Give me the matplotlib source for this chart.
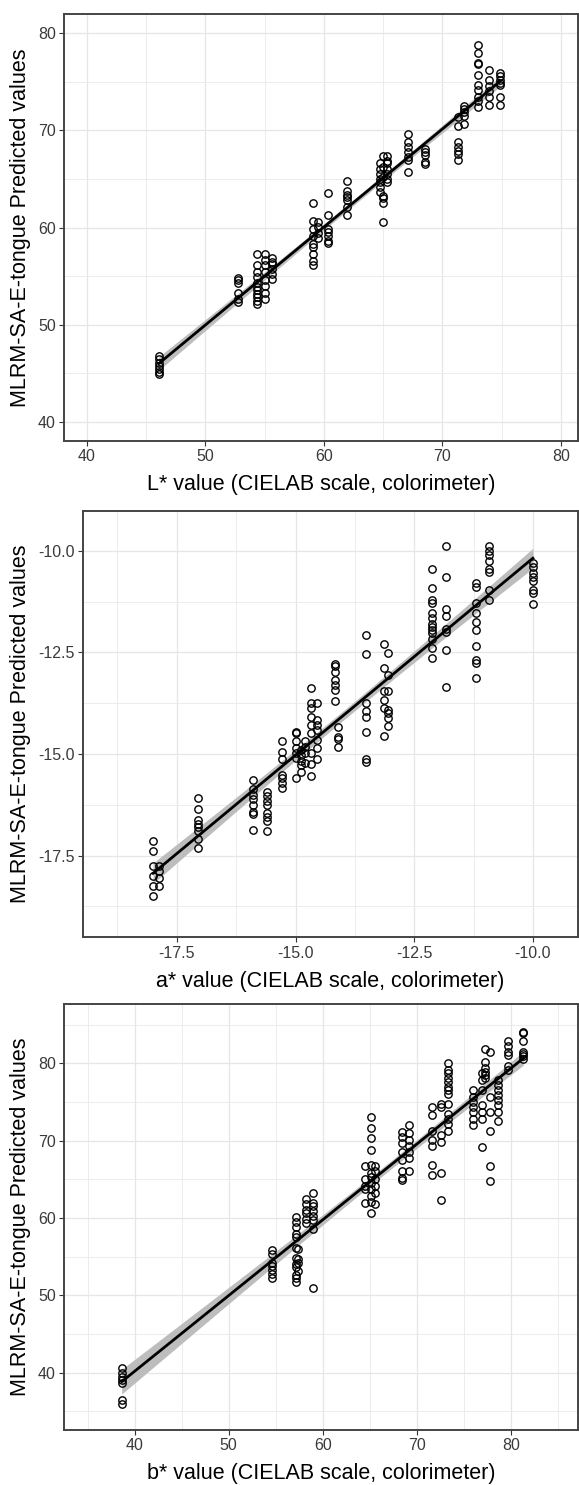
import numpy as np
import matplotlib
matplotlib.use("Agg")
import matplotlib.pyplot as plt
from matplotlib.ticker import MultipleLocator

plt.rcParams['font.family'] = ['Liberation Sans', 'DejaVu Sans']
plt.rcParams['axes.unicode_minus'] = False

# L* panel: colorimeter value per group and the predicted values of that group
L_ref = [46.05, 52.75, 54.35, 55.05, 55.6, 59.1, 59.5, 60.35, 61.95,
         64.7, 65.0, 65.35, 67.1, 68.55, 71.35, 71.8, 73.0, 73.95, 74.85]
L_pred = [
    [46.8, 46.5, 46.0, 45.7, 45.4, 45.1, 44.9],
    [54.8, 54.6, 54.3, 53.3, 52.6, 52.3],
    [57.25, 56.1, 55.4, 54.9, 54.3, 53.9, 53.6, 53.2, 52.8, 52.4, 52.1],
    [57.25, 56.7, 56.1, 55.4, 54.6, 54.0, 53.3, 52.6],
    [56.9, 56.5, 56.2, 55.7, 55.2, 54.7],
    [62.5, 60.7, 59.8, 59.1, 58.3, 58.0, 57.3, 56.6, 56.1],
    [60.6, 60.1, 59.4, 58.9],
    [63.55, 61.3, 59.8, 59.5, 59.1, 58.6, 58.4],
    [64.8, 63.8, 63.4, 63.1, 62.8, 62.1, 61.3],
    [66.7, 66.0, 65.5, 65.0, 64.7, 64.2, 63.7],
    [67.4, 66.2, 65.2, 63.3, 63.0, 62.5, 60.6],
    [67.4, 66.9, 66.6, 66.0, 65.5, 65.0, 64.7],
    [69.65, 68.8, 68.3, 67.8, 67.3, 67.0, 65.7],
    [68.1, 67.8, 67.5, 66.8, 66.5],
    [71.4, 70.5, 68.8, 68.3, 67.9, 67.6, 67.0],
    [72.55, 72.2, 71.9, 71.5, 70.7],
    [78.8, 78.0, 77.0, 76.8, 75.7, 74.7, 74.2, 73.5, 73.0, 72.4],
    [76.2, 75.2, 74.6, 74.1, 73.5, 72.6],
    [75.9, 75.6, 75.2, 74.9, 74.7, 73.4, 72.6],
]

# a* panel
a_ref = [-18.0, -17.88, -17.06, -15.9, -15.61, -15.29, -15.0, -14.89, -14.81,
         -14.67, -14.55, -14.17, -14.11, -13.51, -13.14, -13.05, -12.13,
         -11.84, -11.2, -10.93, -10.0]
a_pred = [
    [-17.14, -17.38, -17.75, -18.0, -18.25, -18.49],
    [-17.75, -17.88, -18.04, -18.25],
    [-16.09, -16.34, -16.62, -16.71, -16.79, -16.89, -17.08, -17.31],
    [-15.64, -15.87, -16.01, -16.11, -16.25, -16.42, -16.47, -16.87],
    [-15.93, -16.03, -16.15, -16.25, -16.44, -16.54, -16.65, -16.89],
    [-14.69, -14.94, -15.13, -15.51, -15.60, -15.70, -15.84],
    [-14.45, -14.49, -14.67, -14.86, -14.98, -15.10, -15.58],
    [-14.90, -15.02, -15.16, -15.27, -15.43],
    [-14.67, -14.82, -14.98, -15.22],
    [-13.38, -13.75, -13.87, -14.08, -14.28, -14.49, -14.98, -15.24, -15.54],
    [-13.75, -14.15, -14.28, -14.41, -14.65, -14.86, -15.13],
    [-12.78, -12.84, -12.99, -13.17, -13.30, -13.42, -13.69],
    [-14.34, -14.57, -14.63, -14.82],
    [-12.06, -12.54, -13.75, -13.95, -14.08, -14.46, -15.13, -15.19],
    [-12.28, -12.88, -13.46, -13.67, -13.87, -14.56],
    [-12.51, -13.05, -13.46, -13.91, -14.0, -14.12, -14.31],
    [-10.45, -10.92, -11.21, -11.28, -11.54, -11.66, -11.79, -11.87, -11.95,
     -12.03, -12.16, -12.39, -12.63],
    [-9.88, -10.65, -11.42, -11.59, -11.91, -11.99, -12.44, -13.34],
    [-10.80, -10.88, -11.29, -11.54, -11.74, -11.95, -12.35, -12.69, -12.76, -13.12],
    [-9.89, -10.0, -10.1, -10.25, -10.45, -10.51, -10.97, -11.21],
    [-10.30, -10.39, -10.54, -10.64, -10.75, -10.95, -11.04, -11.30],
]

# b* panel
b_ref = [38.63, 54.6, 57.17, 57.35, 58.24, 59.0, 64.5, 65.1, 65.5, 68.4, 69.1,
         71.56, 72.6, 73.3, 75.9, 76.86, 77.25, 77.8, 78.6, 79.7, 81.3]
b_pred = [
    [40.57, 40.0, 39.5, 39.07, 38.64, 36.49, 35.98],
    [55.86, 55.4, 54.2, 53.8, 53.3, 52.8, 52.3],
    [60.1, 59.5, 58.9, 58.0, 57.5, 56.1, 54.8, 54.1, 53.7, 52.7, 52.2, 51.7],
    [56.0, 54.7, 54.2, 53.1],
    [62.5, 61.8, 61.1, 60.6, 59.9, 59.4],
    [63.3, 62.0, 61.6, 60.9, 60.3, 59.7, 58.6, 50.9],
    [66.7, 65.0, 64.1, 63.7, 62.0],
    [73.0, 71.6, 70.4, 68.8, 66.8, 65.8, 65.3, 64.5, 63.7, 62.9, 62.1, 60.6],
    [66.7, 66.1, 65.0, 64.1, 63.3, 61.8],
    [71.1, 70.5, 69.7, 68.6, 67.5, 66.1, 65.2, 64.9],
    [72.0, 71.0, 70.1, 69.3, 68.6, 67.8, 66.1],
    [74.4, 73.3, 71.2, 70.1, 69.3, 66.8, 65.6],
    [74.8, 74.4, 70.7, 69.8, 65.8, 62.3],
    [80.0, 79.2, 78.7, 78.1, 77.6, 77.0, 76.5, 76.1, 74.8, 73.4, 72.8, 72.2, 71.3],
    [76.5, 75.6, 75.0, 74.4, 73.7, 72.8, 72.0],
    [78.7, 77.8, 76.5, 74.6, 73.7, 72.8, 69.2],
    [81.8, 80.2, 79.4, 78.9, 78.5, 78.1],
    [81.5, 75.6, 73.7, 71.2, 66.7, 64.8],
    [77.8, 77.2, 76.5, 75.9, 75.2, 74.6, 73.7, 72.6],
    [82.9, 82.2, 81.5, 81.1, 79.6, 79.2],
    [84.1, 83.9, 82.9, 81.5, 81.2, 80.9, 80.5],
]

W, H = 579, 1485
fig = plt.figure(figsize=(W / 100, H / 100), dpi=100)


def flatten(ref, pred):
    xs, ys = [], []
    for xv, group in zip(ref, pred):
        xs += [xv] * len(group)
        ys += group
    return np.array(xs), np.array(ys)


def panel(box, ref, pred, lims, major, minor, fmt, xlabel):
    left, top, right, bottom = box
    ax = fig.add_axes([left / W, 1 - bottom / H, (right - left) / W, (bottom - top) / H])
    x, y = flatten(ref, pred)

    # droite de régression + intervalle de confiance 95 %
    slope, icpt = np.polyfit(x, y, 1)
    xs = np.linspace(x.min(), x.max(), 100)
    fit = icpt + slope * xs
    resid = y - (icpt + slope * x)
    s = np.sqrt(np.sum(resid ** 2) / (len(x) - 2))
    se = s * np.sqrt(1 / len(x) + (xs - x.mean()) ** 2 / np.sum((x - x.mean()) ** 2))
    ax.fill_between(xs, fit - 1.97 * se, fit + 1.97 * se, color='#bdbdbd', lw=0, zorder=2)

    ax.plot(x, y, 'o', mfc='none', mec='black', ms=5.3, mew=1.0, zorder=3)
    ax.plot(xs, fit, color='black', lw=2.0, zorder=4)

    ax.set_xlim(lims[0])
    ax.set_ylim(lims[1])
    for axis in (ax.xaxis, ax.yaxis):
        axis.set_major_locator(MultipleLocator(major))
        axis.set_minor_locator(MultipleLocator(minor))
        axis.set_major_formatter(fmt)
    ax.grid(True, which='major', color='#e6e6e6', lw=0.9, zorder=0)
    ax.grid(True, which='minor', color='#ececec', lw=0.7, zorder=0)
    ax.set_axisbelow(True)
    ax.tick_params(which='minor', length=0)
    ax.tick_params(which='major', length=3.5, width=0.8, color='#333333',
                   labelcolor='#3a3a3a', labelsize=11.5, pad=2.5)
    for sp in ax.spines.values():
        sp.set_color('#444444')
        sp.set_linewidth(1.4)

    ax.set_xlabel(xlabel, fontsize=15.5, color='black', va='center')
    ax.xaxis.set_label_coords(0.5, -44 / (bottom - top))
    ax.set_ylabel('MLRM-SA-E-tongue Predicted values', fontsize=15.5, color='black', va='center')
    ax.yaxis.set_label_coords((21 - left) / (right - left), 0.5)
    return ax


panel((64, 14, 578, 440.7), L_ref, L_pred, ((38.06, 81.44), (38.04, 82.0)), 10, 5,
      '{x:.0f}', 'L* value (CIELAB scale, colorimeter)')
panel((83.3, 510.7, 578, 937.3), a_ref, a_pred, ((-19.47, -9.05), (-19.51, -9.01)), 2.5, 1.25,
      '{x:.1f}', 'a* value (CIELAB scale, colorimeter)')
panel((64, 1004, 578, 1430), b_ref, b_pred, ((32.5, 87.1), (32.6, 87.67)), 10, 5,
      '{x:.0f}', 'b* value (CIELAB scale, colorimeter)')

fig.savefig('out.png', dpi=100, facecolor='white')
